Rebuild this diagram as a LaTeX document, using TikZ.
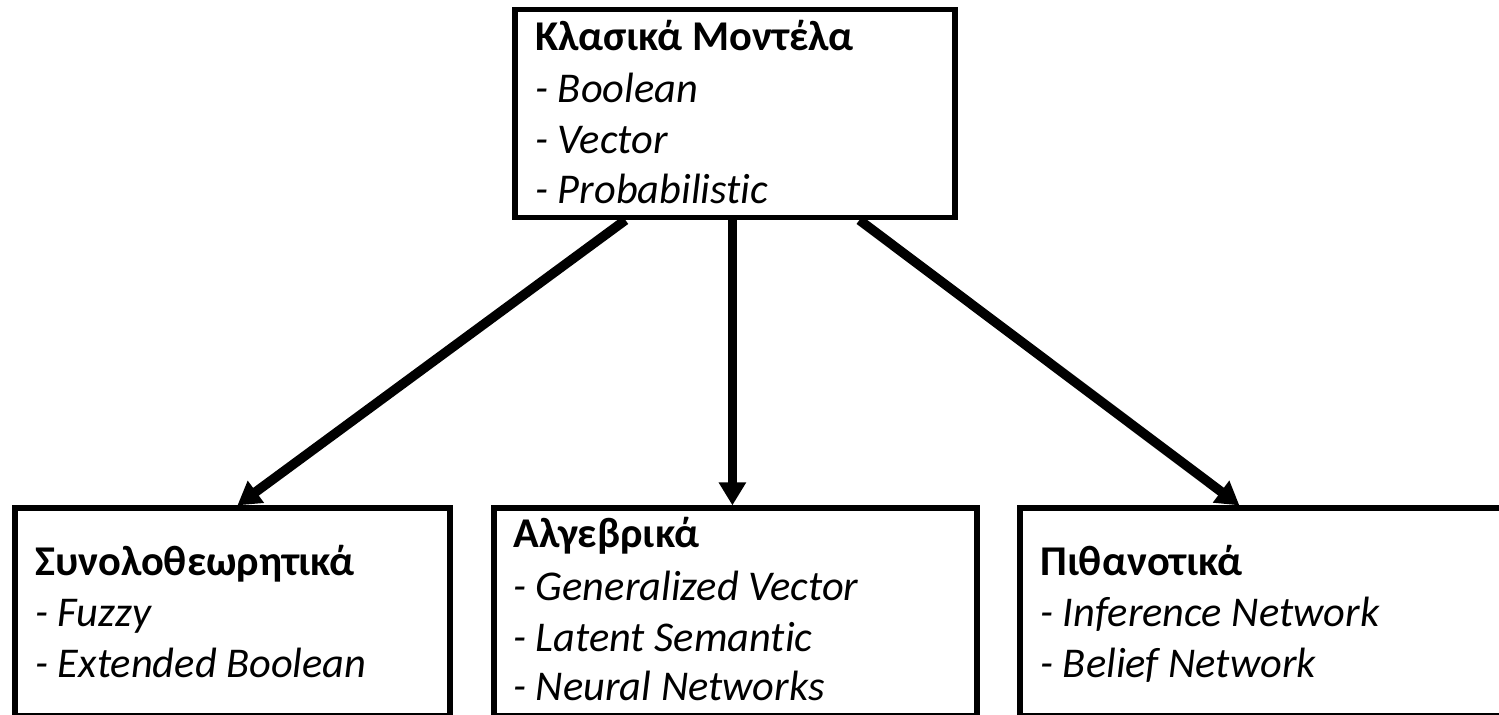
\documentclass[tikz,border=0pt]{standalone}
\usepackage{fontspec}
\setmainfont{Carlito}[Ligatures=NoCommon]
\usetikzlibrary{arrows.meta,fit}
\begin{document}
\begin{tikzpicture}[x=0.5pt,y=-0.5pt,
  box/.style={draw, line width=2.6pt, rectangle, inner sep=0pt},
  ttl/.style={anchor=base west, inner sep=0pt, font=\fontsize{21.2}{25}\selectfont\bfseries},
  itm/.style={anchor=base west, inner sep=0pt, font=\fontsize{21.2}{25}\selectfont\itshape},
  link/.style={line width=4.8pt, -{Triangle[length=11.5pt,width=13pt]}}]
\useasboundingbox (0,0) rectangle (1499,715);

% boxes
\node[box, fit={(515,9.5) (955,217.5)}] (top) {};
\node[box, fit={(15,508) (450,716)}] (left) {};
\node[box, fit={(494,508) (977,716)}] (mid) {};
\node[box, fit={(1020,508) (1530,716)}] (right) {};

% top box text
\node[ttl] (t0) at (535,51) {Κλασικά Μοντέλα};
\node[itm] (t1) at (535,103) {- Boolean};
\node[itm] (t2) at (535,154) {- Vector};
\node[itm] (t3) at (535,204) {- Probabilistic};

% left box text
\node[ttl] (l0) at (35,576) {Συνολοθεωρητικά};
\node[itm] (l1) at (35,626) {- Fuzzy};
\node[itm] (l2) at (35,677) {- Extended Boolean};

% middle box text
\node[ttl] (m0) at (513,548) {Αλγεβρικά};
\node[itm] (m1) at (513,601) {- Generalized Vector};
\node[itm] (m2) at (513,651) {- Latent Semantic};
\node[itm] (m3) at (513,700) {- Neural Networks};

% right box text
\node[ttl] (r0) at (1040,576) {Πιθανοτικά};
\node[itm] (r1) at (1040,626) {- Inference Network};
\node[itm] (r2) at (1040,677) {- Belief Network};

% connectors
\draw[link] ([xshift=56.5pt]top.south west) -- ([xshift=112.5pt]left.north west);
\draw[link] ([xshift=110pt]top.south west) -- ([xshift=120.5pt]mid.north west);
\draw[link] ([xshift=173.5pt]top.south west) -- ([xshift=111pt]right.north west);
\end{tikzpicture}
\end{document}
